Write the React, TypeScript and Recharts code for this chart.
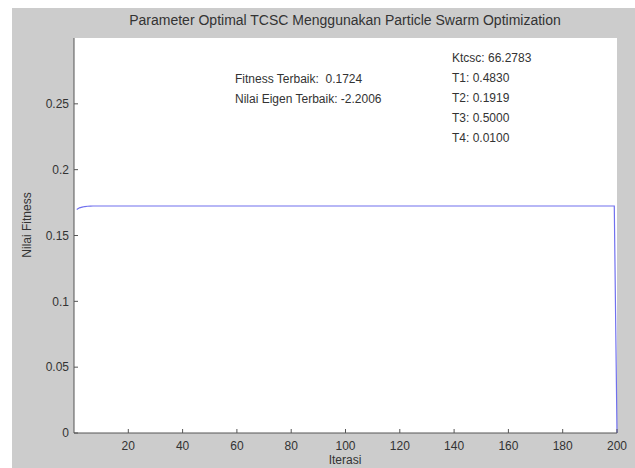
import { LineChart, Line, XAxis, YAxis, CartesianGrid } from 'recharts';

const iterasi = [1, 2, 3, 4, 5, 6, 7, 198, 199, 200];
const fitness = [0.1698, 0.171, 0.1716, 0.172, 0.1722, 0.1723, 0.1724, 0.1724, 0.1724, 0];

const xTicks = [20, 40, 60, 80, 100, 120, 140, 160, 180, 200];
const yTicks = [0, 0.05, 0.1, 0.15, 0.2, 0.25];

const hasilKiri = ['Fitness Terbaik:  0.1724', 'Nilai Eigen Terbaik: -2.2006'];
const hasilKanan = ['Ktcsc: 66.2783', 'T1: 0.4830', 'T2: 0.1919', 'T3: 0.5000', 'T4: 0.0100'];

const data = iterasi.map((it, i) => ({ it, f: fitness[i] }));

const font = 'Arial, "Liberation Sans", sans-serif';
const textStyle = {
  position: 'absolute',
  fontFamily: font,
  fontSize: '12px',
  color: '#333333',
  whiteSpace: 'nowrap',
  lineHeight: '20px',
} as React.CSSProperties;

export default function App() {
  return (
    <div style={{ position: 'absolute', left: 0, top: 0, width: 635, height: 468, background: '#ffffff' }}>
      <div style={{ position: 'absolute', left: 12, top: 8, width: 623, height: 460, background: '#cccccc' }}>
        <LineChart
          width={623}
          height={460}
          data={data}
          margin={{ top: 30, right: 18, bottom: 0, left: 0 }}
        >
          <CartesianGrid fill="#ffffff" horizontal={false} vertical={false} />
          <XAxis
            dataKey="it"
            type="number"
            domain={[0, 200]}
            ticks={xTicks}
            height={35}
            tickSize={-4}
            tickMargin={12}
            stroke="#555555"
            tick={{ fill: '#333333', fontSize: 12, fontFamily: font }}
          />
          <YAxis
            type="number"
            domain={[0, 0.3]}
            ticks={yTicks}
            width={62}
            tickSize={-4}
            tickMargin={9}
            stroke="#555555"
            tick={{ fill: '#333333', fontSize: 12, fontFamily: font }}
          />
          <Line
            type="linear"
            dataKey="f"
            stroke="#7070ee"
            strokeWidth={1.2}
            dot={false}
            isAnimationActive={false}
          />
        </LineChart>
        <div style={{ ...textStyle, left: 0, width: 666, top: 2, textAlign: 'center', fontSize: '14px' }}>
          Parameter Optimal TCSC Menggunakan Particle Swarm Optimization
        </div>
        <div
          style={{
            ...textStyle,
            left: 15,
            top: 217,
            transform: 'translate(-50%, -50%) rotate(-90deg)',
          }}
        >
          Nilai Fitness
        </div>
        <div style={{ ...textStyle, left: 0, width: 666, top: 442, textAlign: 'center' }}>Iterasi</div>
        <div style={{ ...textStyle, left: 223, top: 61 }}>
          {hasilKiri.map((t) => (
            <div key={t} style={{ whiteSpace: 'pre' }}>{t}</div>
          ))}
        </div>
        <div style={{ ...textStyle, left: 440, top: 40 }}>
          {hasilKanan.map((t) => (
            <div key={t}>{t}</div>
          ))}
        </div>
      </div>
    </div>
  );
}
